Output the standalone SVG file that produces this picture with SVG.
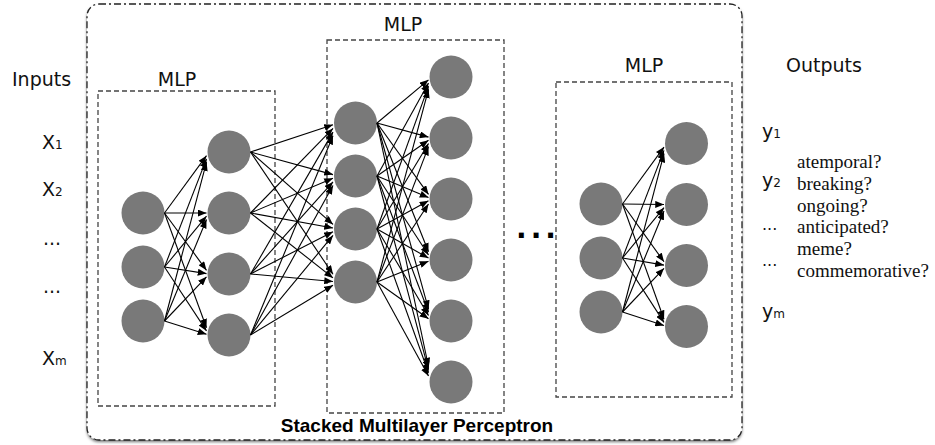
<svg xmlns="http://www.w3.org/2000/svg" width="935" height="445" viewBox="0 0 935 445">
<style>
.lbl{font-family:"DejaVu Sans",Verdana,sans-serif;font-size:19px;fill:#111}
.sub{font-size:12px}
.ser{font-family:"Liberation Serif","Times New Roman",serif;font-size:19px;fill:#111}
.box{fill:none;stroke:#444;stroke-width:1.3;stroke-dasharray:5 3}
.nd{fill:#797979}
.cn line{stroke:#000;stroke-width:1.1;marker-end:url(#ah)}
</style>
<defs>
<marker id="ah" viewBox="0 0 10 8" refX="10" refY="4" markerWidth="9" markerHeight="7" markerUnits="userSpaceOnUse" orient="auto"><path d="M0,0 L10,4 L0,8 z" fill="#000"/></marker>
<filter id="sh" x="-5%" y="-5%" width="110%" height="110%"><feDropShadow dx="0" dy="2" stdDeviation="1.5" flood-color="#000" flood-opacity="0.55"/></filter>
</defs>
<rect width="935" height="445" fill="#fff"/>
<g id="stacked">
<rect x="87" y="4" width="655" height="436" rx="12" fill="#fff" filter="url(#sh)"/>
<rect x="87" y="4" width="655" height="436" rx="12" fill="none" stroke="#222" stroke-width="1.3" stroke-dasharray="7 3 2 3"/>
<text x="417" y="432" text-anchor="middle" font-family="'Liberation Sans',Arial,sans-serif" font-weight="bold" font-size="19" fill="#000">Stacked Multilayer Perceptron</text>
</g>
<g id="mlp1">
<rect class="box" x="98" y="91" width="177" height="315"/>
<text class="lbl" x="177" y="86" text-anchor="middle">MLP</text>
</g>
<g id="mlp2">
<rect class="box" x="327" y="40" width="177" height="373"/>
<text class="lbl" x="403" y="31" text-anchor="middle">MLP</text>
</g>
<g id="mlp3">
<rect class="box" x="556" y="82" width="176" height="315"/>
<text class="lbl" x="644" y="72" text-anchor="middle">MLP</text>
</g>
<g id="labels">
<text class="lbl" x="12" y="86">Inputs</text>
<text class="lbl" x="42" y="149">X<tspan class="sub">1</tspan></text>
<text class="lbl" x="42" y="196">X<tspan class="sub">2</tspan></text>
<text class="lbl" x="43" y="245">...</text>
<text class="lbl" x="43" y="293">...</text>
<text class="lbl" x="42" y="365">X<tspan class="sub">m</tspan></text>
<text class="lbl" x="786" y="72">Outputs</text>
<text class="lbl" x="762" y="138">y<tspan class="sub">1</tspan></text>
<text class="lbl" x="762" y="187">y<tspan class="sub">2</tspan></text>
<text class="lbl" x="762" y="230" style="font-size:16px">...</text>
<text class="lbl" x="762" y="266" style="font-size:16px">...</text>
<text class="lbl" x="762" y="318">y<tspan class="sub">m</tspan></text>
<text class="ser" x="797" y="168">atemporal?</text>
<text class="ser" x="797" y="190">breaking?</text>
<text class="ser" x="797" y="212">ongoing?</text>
<text class="ser" x="797" y="233">anticipated?</text>
<text class="ser" x="797" y="255">meme?</text>
<text class="ser" x="797" y="277">commemorative?</text>
<text x="516" y="238" font-family="'DejaVu Sans',sans-serif" font-weight="bold" font-size="28" letter-spacing="4" fill="#000">...</text>
</g>
<g id="nodes">
<g id="m1a1"><circle class="nd" cx="143" cy="213" r="21.5"/></g>
<g id="m1a2"><circle class="nd" cx="143" cy="267" r="21.5"/></g>
<g id="m1a3"><circle class="nd" cx="143" cy="321" r="21.5"/></g>
<g id="m1b1"><circle class="nd" cx="229" cy="152" r="21.5"/></g>
<g id="m1b2"><circle class="nd" cx="229" cy="213" r="21.5"/></g>
<g id="m1b3"><circle class="nd" cx="229" cy="274" r="21.5"/></g>
<g id="m1b4"><circle class="nd" cx="229" cy="335" r="21.5"/></g>
<g id="m2a1"><circle class="nd" cx="355.5" cy="123" r="21.5"/></g>
<g id="m2a2"><circle class="nd" cx="355.5" cy="176" r="21.5"/></g>
<g id="m2a3"><circle class="nd" cx="355.5" cy="229" r="21.5"/></g>
<g id="m2a4"><circle class="nd" cx="355.5" cy="282" r="21.5"/></g>
<g id="m2b1"><circle class="nd" cx="451" cy="77" r="21.5"/></g>
<g id="m2b2"><circle class="nd" cx="451" cy="138" r="21.5"/></g>
<g id="m2b3"><circle class="nd" cx="451" cy="199" r="21.5"/></g>
<g id="m2b4"><circle class="nd" cx="451" cy="260" r="21.5"/></g>
<g id="m2b5"><circle class="nd" cx="451" cy="321" r="21.5"/></g>
<g id="m2b6"><circle class="nd" cx="451" cy="382" r="21.5"/></g>
<g id="m3a1"><circle class="nd" cx="601" cy="204" r="21.5"/></g>
<g id="m3a2"><circle class="nd" cx="601" cy="258" r="21.5"/></g>
<g id="m3a3"><circle class="nd" cx="601" cy="312" r="21.5"/></g>
<g id="m3b1"><circle class="nd" cx="686.5" cy="143.5" r="21.5"/></g>
<g id="m3b2"><circle class="nd" cx="686.5" cy="204.5" r="21.5"/></g>
<g id="m3b3"><circle class="nd" cx="686.5" cy="265.5" r="21.5"/></g>
<g id="m3b4"><circle class="nd" cx="686.5" cy="326.5" r="21.5"/></g>
</g>
<g id="connectors" class="cn">
<line x1="164.5" y1="213" x2="206.5" y2="155.7"/>
<line x1="164.5" y1="213" x2="206.5" y2="213"/>
<line x1="164.5" y1="213" x2="206.5" y2="270.3"/>
<line x1="164.5" y1="213" x2="206.5" y2="327.7"/>
<line x1="164.5" y1="267" x2="206.5" y2="158.9"/>
<line x1="164.5" y1="267" x2="206.5" y2="216.2"/>
<line x1="164.5" y1="267" x2="206.5" y2="273.6"/>
<line x1="164.5" y1="267" x2="206.5" y2="330.9"/>
<line x1="164.5" y1="321" x2="206.5" y2="162.1"/>
<line x1="164.5" y1="321" x2="206.5" y2="219.5"/>
<line x1="164.5" y1="321" x2="206.5" y2="276.8"/>
<line x1="164.5" y1="321" x2="206.5" y2="334.2"/>

<line x1="250.5" y1="152" x2="333" y2="124.7"/>
<line x1="250.5" y1="152" x2="333" y2="174.6"/>
<line x1="250.5" y1="152" x2="333" y2="224.4"/>
<line x1="250.5" y1="152" x2="333" y2="274.2"/>
<line x1="250.5" y1="213" x2="333" y2="128.4"/>
<line x1="250.5" y1="213" x2="333" y2="178.2"/>
<line x1="250.5" y1="213" x2="333" y2="228"/>
<line x1="250.5" y1="213" x2="333" y2="277.9"/>
<line x1="250.5" y1="274" x2="333" y2="132.1"/>
<line x1="250.5" y1="274" x2="333" y2="181.9"/>
<line x1="250.5" y1="274" x2="333" y2="231.7"/>
<line x1="250.5" y1="274" x2="333" y2="281.5"/>
<line x1="250.5" y1="335" x2="333" y2="135.7"/>
<line x1="250.5" y1="335" x2="333" y2="185.5"/>
<line x1="250.5" y1="335" x2="333" y2="235.4"/>
<line x1="250.5" y1="335" x2="333" y2="285.2"/>

<line x1="377" y1="123" x2="428.5" y2="79.8"/>
<line x1="377" y1="123" x2="428.5" y2="137.1"/>
<line x1="377" y1="123" x2="428.5" y2="194.4"/>
<line x1="377" y1="123" x2="428.5" y2="251.8"/>
<line x1="377" y1="123" x2="428.5" y2="309.1"/>
<line x1="377" y1="123" x2="428.5" y2="366.5"/>
<line x1="377" y1="176" x2="428.5" y2="82.9"/>
<line x1="377" y1="176" x2="428.5" y2="140.3"/>
<line x1="377" y1="176" x2="428.5" y2="197.6"/>
<line x1="377" y1="176" x2="428.5" y2="255"/>
<line x1="377" y1="176" x2="428.5" y2="312.3"/>
<line x1="377" y1="176" x2="428.5" y2="369.6"/>
<line x1="377" y1="229" x2="428.5" y2="86.1"/>
<line x1="377" y1="229" x2="428.5" y2="143.5"/>
<line x1="377" y1="229" x2="428.5" y2="200.8"/>
<line x1="377" y1="229" x2="428.5" y2="258.1"/>
<line x1="377" y1="229" x2="428.5" y2="315.5"/>
<line x1="377" y1="229" x2="428.5" y2="372.8"/>
<line x1="377" y1="282" x2="428.5" y2="89.3"/>
<line x1="377" y1="282" x2="428.5" y2="146.6"/>
<line x1="377" y1="282" x2="428.5" y2="204"/>
<line x1="377" y1="282" x2="428.5" y2="261.3"/>
<line x1="377" y1="282" x2="428.5" y2="318.7"/>
<line x1="377" y1="282" x2="428.5" y2="376"/>

<line x1="622.5" y1="204" x2="664" y2="147.1"/>
<line x1="622.5" y1="204" x2="664" y2="204.5"/>
<line x1="622.5" y1="204" x2="664" y2="261.8"/>
<line x1="622.5" y1="204" x2="664" y2="319.2"/>
<line x1="622.5" y1="258" x2="664" y2="150.4"/>
<line x1="622.5" y1="258" x2="664" y2="207.7"/>
<line x1="622.5" y1="258" x2="664" y2="265.1"/>
<line x1="622.5" y1="258" x2="664" y2="322.4"/>
<line x1="622.5" y1="312" x2="664" y2="153.6"/>
<line x1="622.5" y1="312" x2="664" y2="211"/>
<line x1="622.5" y1="312" x2="664" y2="268.3"/>
<line x1="622.5" y1="312" x2="664" y2="325.6"/>
</g>
</svg>
